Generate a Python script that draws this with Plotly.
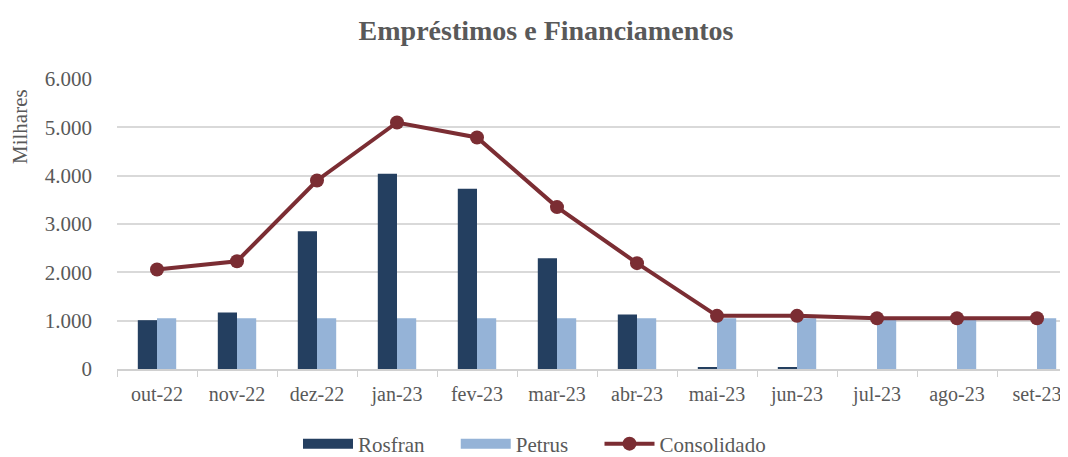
import plotly.graph_objects as go

categories = ["out-22", "nov-22", "dez-22", "jan-23", "fev-23", "mar-23",
              "abr-23", "mai-23", "jun-23", "jul-23", "ago-23", "set-23"]
rosfran = [1010, 1170, 2850, 4040, 3730, 2290, 1130, 30, 30, 0, 0, 0]
petrus = [1050, 1050, 1050, 1050, 1050, 1050, 1050, 1050, 1050, 1050, 1050, 1050]
consolidado = [2060, 2230, 3900, 5100, 4790, 3350, 2190, 1100, 1100, 1050, 1050, 1050]
y_ticks = [0, 1000, 2000, 3000, 4000, 5000, 6000]

FONT = "Liberation Serif"
GREY = "#595959"
C_ROS = "#243F60"
C_PET = "#95B3D7"
C_CON = "#7B2D33"
PAD = "\u00a0" * 5

W, H = 1060, 449   # page body adds an 8px offset
L, T, PH = 109, 71, 290
PW = W - L

fig = go.Figure()
fig.add_trace(go.Bar(x=categories, y=rosfran, name="Rosfran", showlegend=False,
                     marker=dict(color=C_ROS, line=dict(width=0))))
fig.add_trace(go.Bar(x=categories, y=petrus, name="Petrus", showlegend=False,
                     marker=dict(color=C_PET, line=dict(width=0))))
fig.add_trace(go.Scatter(x=categories, y=consolidado, name="Consolidado",
                         mode="lines+markers", showlegend=False,
                         line=dict(color=C_CON, width=4),
                         marker=dict(color=C_CON, size=14)))
# legend entries (wide swatches like the reference)
fig.add_trace(go.Scatter(x=[None], y=[None], name="Rosfran" + PAD, mode="lines",
                         line=dict(color=C_ROS, width=14)))
fig.add_trace(go.Scatter(x=[None], y=[None], name="Petrus" + PAD, mode="lines",
                         line=dict(color=C_PET, width=14)))
fig.add_trace(go.Scatter(x=[None], y=[None], name="Consolidado", mode="lines+markers",
                         line=dict(color=C_CON, width=4),
                         marker=dict(color=C_CON, size=14)))

fig.update_layout(
    width=W, height=H,
    margin=dict(l=L, r=0, t=T, b=H - T - PH, autoexpand=False),
    paper_bgcolor="white", plot_bgcolor="white",
    barmode="group", bargap=0.52, bargroupgap=0,
    separators=",.",
    font=dict(family=FONT, color=GREY, size=21),
    title=dict(text="<b>Empréstimos e Financiamentos</b>", x=0.5 + 8 / W, xanchor="center",
               y=1 - 22 / H, yanchor="middle",
               font=dict(family=FONT, size=28, color=GREY)),
    legend=dict(orientation="h", x=(290 - L) / PW, xanchor="left",
                yref="container", y=(H - 436) / H, yanchor="middle",
                font=dict(family=FONT, size=21, color=GREY), traceorder="normal",
                itemwidth=50),
    showlegend=True,
)
fig.update_xaxes(type="category", range=[-0.5, 11.3875], automargin=False,
                 showline=True, linecolor="#D0D0D0", linewidth=1.5,
                 ticks="outside", tickson="boundaries", ticklen=6, tickcolor="#D0D0D0",
                 ticklabelstandoff=6,
                 tickfont=dict(family=FONT, size=20, color=GREY), showgrid=False)
fig.update_yaxes(range=[0, 6000], tickvals=y_ticks, tickformat=",.0f", automargin=False,
                 showgrid=True, gridcolor="#D9D9D9", gridwidth=1.5,
                 zeroline=False, showline=False, ticks="", ticklabelstandoff=24,
                 tickfont=dict(family=FONT, size=21, color=GREY))
fig.add_annotation(text="Milhares", xref="paper", yref="paper",
                   x=(12 - L) / PW, y=(PH - (127 - 79)) / PH,
                   xanchor="center", yanchor="middle", textangle=-90, showarrow=False,
                   font=dict(family=FONT, size=21, color=GREY))

fig.write_html("out.html")
